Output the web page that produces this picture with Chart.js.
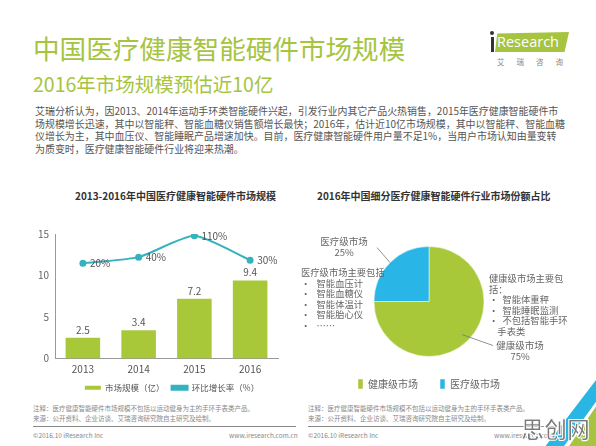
<!DOCTYPE html>
<html>
<head>
<meta charset="utf-8">
<script src="https://cdn.jsdelivr.net/npm/chart.js@4.4.0/dist/chart.umd.min.js"></script>
<style>
	body {
		margin: 0;
		width: 596px;
		height: 446px;
		background: #fff;
		position: relative;
		overflow: hidden;
		font-family: "Noto Sans CJK SC", "Noto Sans", sans-serif;
	}
	.abs { position: absolute; white-space: nowrap; }
	.title { left: 33px; top: 28px; font-size: 26.6px; color: #a6c43f; }
	.subtitle { left: 33px; top: 69px; font-size: 19.5px; color: #a6c43f; }
	.para { left: 35px; top: 105px; font-size: 9.95px; line-height: 12.6px; color: #555; }
	.chart-title { font-size: 10px; font-weight: bold; color: #333; }
	.note { font-size: 6.5px; line-height: 10px; color: #888; }
	.side { font-size: 9.3px; line-height: 10.6px; color: #666; }
	.rule { position: absolute; height: 1px; background: #888; }
	.logo {
		left: 495px; top: 32px; width: 74px; height: 20px;
		background: #a6c43f;
		clip-path: polygon(3% 8%, 100% 0, 94% 100%, 0 100%);
		color: #fff; font-family: "Open Sans", sans-serif; font-size: 14.5px; line-height: 20px;
		text-indent: 2px;
	}
	.chart-box { position: absolute; }
</style>
</head>
<body>

<div class="abs title">中国医疗健康智能硬件市场规模</div>
<div class="abs subtitle">2016年市场规模预估近10亿</div>

<div class="abs logo">Research</div>
<div class="abs" style="left:490px;top:31px;width:4px;height:4px;border-radius:2px;background:#333;"></div>
<div class="abs" style="left:491px;top:37px;width:3px;height:15px;background:#333;"></div>
<div class="abs" style="left:497px;top:56px;font-size:7.5px;color:#888;letter-spacing:12px;">艾瑞咨询</div>

<div class="abs para">
	艾瑞分析认为，因2013、2014年运动手环类智能硬件兴起，引发行业内其它产品火热销售，2015年医疗健康智能硬件市<br>
	场规模增长迅速，其中以智能秤、智能血糖仪销售额增长最快；2016年，估计近10亿市场规模，其中以智能秤、智能血糖<br>
	仪增长为主，其中血压仪、智能睡眠产品增速加快。目前，医疗健康智能硬件用户量不足1%，当用户市场认知由量变转<br>
	为质变时，医疗健康智能硬件行业将迎来热潮。
</div>

<div class="abs chart-title" style="left:75px;top:188px;">2013-2016年中国医疗健康智能硬件市场规模</div>
<div class="abs chart-title" style="left:317px;top:188px;">2016年中国细分医疗健康智能硬件行业市场份额占比</div>

<div class="chart-box" style="left:20px;top:222px;width:304px;height:180px;">
	<canvas id="sizeChart" width="304" height="180"></canvas>
</div>
<div class="chart-box" style="left:300px;top:222px;width:258px;height:177px;">
	<canvas id="shareChart" width="258" height="177"></canvas>
</div>

<div class="abs side" style="left:301px;top:267px;">
	医疗级市场主要包括<br>
	•&nbsp;&nbsp;&nbsp;智能血压计<br>
	•&nbsp;&nbsp;&nbsp;智能血糖仪<br>
	•&nbsp;&nbsp;&nbsp;智能体温计<br>
	•&nbsp;&nbsp;&nbsp;智能胎心仪<br>
	•&nbsp;&nbsp;&nbsp;……
</div>
<div class="abs side" style="left:489px;top:273px;">
	健康级市场主要包<br>
	括：<br>
	•&nbsp;&nbsp;智能体重秤<br>
	•&nbsp;&nbsp;智能睡眠监测<br>
	•&nbsp;&nbsp;不包括智能手环<br>
	&nbsp;&nbsp;&nbsp;&nbsp;手表类
</div>

<div class="abs note" style="left:33px;top:403px;">
	注释：医疗健康智能硬件市场规模不包括以运动健身为主的手环手表类产品。<br>
	来源：公开资料、企业访谈、艾瑞咨询研究院自主研究及绘制。
</div>
<div class="abs note" style="left:308px;top:403px;">
	注释：医疗健康智能硬件市场规模不包括以运动健身为主的手环手表类产品。<br>
	来源：公开资料、企业访谈、艾瑞咨询研究院自主研究及绘制。
</div>
<div class="rule" style="left:33px;top:426px;width:263px;"></div>
<div class="rule" style="left:308px;top:426px;width:255px;"></div>
<div class="abs note" style="left:33px;top:430px;">©2016.10 iResearch Inc</div>
<div class="abs note" style="left:229px;top:430px;">www.iresearch.com.cn</div>
<div class="abs note" style="left:308px;top:430px;">©2016.10 iResearch Inc</div>
<div class="abs note" style="left:494px;top:430px;">www.iresearch.com.cn</div>

<div class="abs" style="left:540px;top:380px;width:56px;height:66px;background:#29b6e3;clip-path:polygon(100% 0, 100% 35%, 45% 100%, 10% 100%);"></div>
<div class="abs" style="left:540px;top:380px;width:56px;height:66px;background:#fff;clip-path:polygon(100% 33%, 100% 40%, 52% 100%, 43% 100%);"></div>
<div class="abs" style="left:540px;top:380px;width:56px;height:66px;background:#a6c43f;clip-path:polygon(100% 40%, 100% 100%, 52% 100%);"></div>
<div class="abs" style="left:521px;top:411px;font-size:23px;font-weight:bold;color:#7a7a7a;-webkit-text-stroke:1px #fff;">思创网</div>

<script>
const years = ["2013", "2014", "2015", "2016"];
const marketSize = [2.5, 3.4, 7.2, 9.4];
const growthRate = [20, 40, 110, 30];
const sizeTicks = [0, 5, 10, 15];

const shareLabels = ["健康级市场", "医疗级市场"];
const shareValues = [75, 25];

const green = "#a8c83a";
const teal = "#35b2bf";
const blue = "#29b6e6";

Chart.defaults.font.family = "'Noto Sans CJK SC', 'Noto Sans', sans-serif";
Chart.defaults.color = "#555";

// value labels over bars and beside the line points
const valueLabels = {
	id: "valueLabels",
	afterDatasetsDraw(chart) {
		const ctx = chart.ctx;
		ctx.save();
		ctx.font = "10px 'Noto Sans CJK SC', sans-serif";
		ctx.fillStyle = "#555";

		chart.data.datasets.forEach((ds, di) => {
			const meta = chart.getDatasetMeta(di);
			meta.data.forEach((el, i) => {
				if (ds.type === "bar") {
					ctx.textAlign = "center";
					ctx.textBaseline = "bottom";
					ctx.fillText(String(ds.data[i]), el.x, el.y - 3);
				} else {
					ctx.textAlign = "left";
					ctx.textBaseline = "middle";
					ctx.fillText(ds.data[i] + "%", el.x + 7, el.y);
				}
			});
		});
		ctx.restore();
	}
};

new Chart(document.getElementById("sizeChart"), {
	data: {
		labels: years,
		datasets: [
			{
				type: "line",
				label: "环比增长率（%）",
				data: growthRate,
				yAxisID: "y1",
				borderColor: teal,
				backgroundColor: teal,
				borderWidth: 2,
				pointRadius: 2.5,
				pointBackgroundColor: teal,
				tension: 0.2,
				order: 0
			},
			{
				type: "bar",
				label: "市场规模（亿）",
				data: marketSize,
				yAxisID: "y",
				backgroundColor: green,
				barPercentage: 0.62,
				categoryPercentage: 1,
				order: 1
			}
		]
	},
	options: {
		responsive: false,
		animation: false,
		layout: { padding: { top: 0, right: 0, left: 0, bottom: 0 } },
		plugins: {
			legend: {
				position: "bottom",
				reverse: true,
				labels: {
					boxWidth: 16,
					boxHeight: 4,
					padding: 7,
					color: "#555",
					font: { size: 8.5 }
				}
			},
			tooltip: { enabled: false }
		},
		scales: {
			x: {
				grid: { display: false, drawTicks: false },
				border: { color: "#999" },
				ticks: { color: "#555", font: { size: 10 }, padding: 5 },
				afterFit: (scale) => {
					scale.height = 18;
				}
			},
			y: {
				position: "left",
				min: sizeTicks[0],
				max: sizeTicks[sizeTicks.length - 1],
				afterBuildTicks: (scale) => {
					scale.ticks = sizeTicks.map((v) => ({ value: v }));
				},
				afterFit: (scale) => {
					scale.width = 35;
				},
				grid: { display: false, drawTicks: false },
				border: { color: "#999" },
				ticks: { color: "#666", font: { size: 10 }, padding: 6 }
			},
			y1: {
				position: "right",
				min: -293,
				max: 116,
				grid: { display: false, drawTicks: false },
				border: { display: false },
				ticks: { display: false },
				afterFit: (scale) => {
					scale.width = 46;
				}
			}
		}
	},
	plugins: [valueLabels]
});

// callout labels for the pie slices
const sliceCallouts = {
	id: "sliceCallouts",
	afterDatasetsDraw(chart, args, opts) {
		const ctx = chart.ctx;
		ctx.save();
		ctx.font = "9.5px 'Noto Sans CJK SC', sans-serif";
		ctx.fillStyle = "#666";
		ctx.strokeStyle = "#777";
		ctx.lineWidth = 0.8;
		ctx.textAlign = "center";
		ctx.textBaseline = "middle";

		chart.getDatasetMeta(0).data.forEach((arc, i) => {
			const c = opts.callouts[i];
			const mid = (arc.startAngle + arc.endAngle) / 2;
			const sx = arc.x + Math.cos(mid) * arc.outerRadius * c.start;
			const sy = arc.y + Math.sin(mid) * arc.outerRadius * c.start;
			const ex = sx + c.line[0];
			const ey = sy + c.line[1];

			ctx.beginPath();
			ctx.moveTo(sx, sy);
			ctx.lineTo(ex, ey);
			ctx.stroke();

			ctx.fillText(shareLabels[i], ex + c.text[0], ey + c.text[1]);
			ctx.fillText(shareValues[i] + "%", ex + c.text[0], ey + c.text[1] + 11);
		});
		ctx.restore();
	}
};

new Chart(document.getElementById("shareChart"), {
	type: "pie",
	data: {
		labels: shareLabels,
		datasets: [{
			data: shareValues,
			backgroundColor: [green, blue],
			borderColor: "#fff",
			borderWidth: 0.5
		}]
	},
	options: {
		responsive: false,
		animation: false,
		radius: 55,
		layout: { padding: { top: 24, bottom: 0 } },
		plugins: {
			legend: {
				position: "bottom",
				labels: {
					boxWidth: 5,
					boxHeight: 10,
					padding: 22,
					color: "#666",
					font: { size: 10 }
				}
			},
			tooltip: { enabled: false },
			sliceCallouts: {
				callouts: [
					{ start: 0.85, line: [31, 11], text: [27, 0] },
					{ start: 1.0, line: [-13, -15], text: [-33, -6] }
				]
			}
		}
	},
	plugins: [sliceCallouts]
});
</script>
</body>
</html>
